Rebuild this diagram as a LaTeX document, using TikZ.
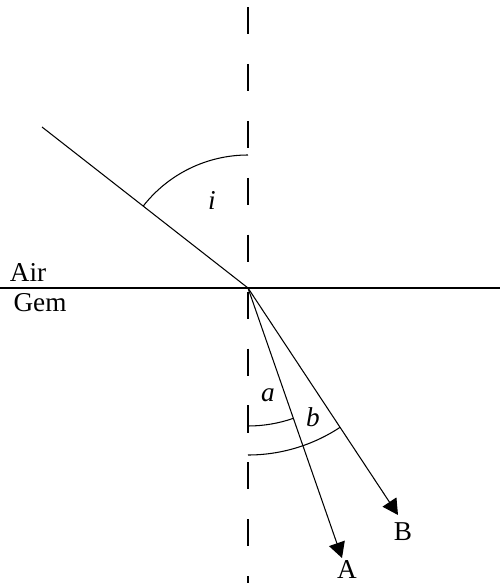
\documentclass[tikz,border=0pt]{standalone}
\usepackage{fontspec}
\setmainfont{Liberation Serif}
\usetikzlibrary{arrows.meta}

\tikzset{
    ray/.style={line width=0.6pt},
    rayarrow/.style={ray, -{Triangle[length=3.1mm, width=3.3mm]}},
    normal/.style={line width=0.9pt, dash pattern=on 15.4pt off 17pt},
    anglearc/.style={line width=0.6pt},
    lbl/.style={font=\fontsize{15.5}{18}\selectfont, inner sep=0pt},
    anglelbl/.style={font=\fontsize{15.5}{18}\selectfont\itshape, inner sep=0pt}
}

\begin{document}
\begin{tikzpicture}[x=0.02cm, y=0.02cm]
    \useasboundingbox (0, 0) rectangle (500, 583);

    % Key points
    \coordinate (O) at (248, 295);
    \coordinate (normtop) at (248, 576);
    \coordinate (normbot) at (248, 0);
    \coordinate (surfL) at (0, 295);
    \coordinate (surfR) at (500, 295);
    \coordinate (inc) at (42, 456);
    \coordinate (tipA) at (342, 25);
    \coordinate (tipB) at (398, 68);

    % Surface and normal
    \draw[ray] (surfL) -- (surfR);
    \draw[normal] (normtop) -- (normbot);
    \node[lbl] (air) at (28, 311) {Air};
    \node[lbl] (gem) at (40, 280) {Gem};

    % Incident ray and refracted rays
    \draw[ray] (inc) -- (O);
    \draw[rayarrow] (O) -- (tipA);
    \draw[rayarrow] (O) -- (tipB);
    \node[lbl] (labA) at (347, 13) {A};
    \node[lbl] (labB) at (403, 51) {B};

    % Angle arcs
    \draw[anglearc] ([shift={(142:133)}]O) arc (142:90:133);
    \draw[anglearc] ([shift={(-90:138)}]O) arc (-90:-70.8:138);
    \draw[anglearc] ([shift={(-90:167)}]O) arc (-90:-56.5:167);
    \node[anglelbl] (angi) at (212, 383) {i};
    \node[anglelbl] (anga) at (268, 188) {a};
    \node[anglelbl] (angb) at (313, 166) {b};
\end{tikzpicture}
\end{document}
